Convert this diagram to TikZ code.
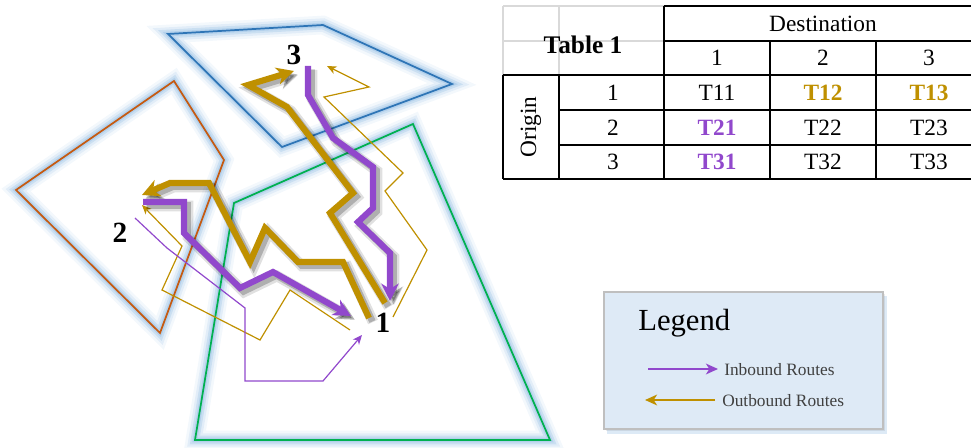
\documentclass[tikz,border=0pt]{standalone}
\usepackage{fontspec}
\setmainfont{Liberation Serif}
\usetikzlibrary{arrows.meta}
\definecolor{gold}{HTML}{BF9000}
\definecolor{purp}{HTML}{9148CC}
\definecolor{zoneblue}{HTML}{2E75B6}
\definecolor{zoneorange}{HTML}{C55A11}
\definecolor{zonegreen}{HTML}{00B050}
\definecolor{glowc}{HTML}{9DC3E6}
\definecolor{legfill}{HTML}{DEEAF6}
\definecolor{legedge}{HTML}{BFBFBF}
\definecolor{gridgray}{HTML}{D9D9D9}
\definecolor{legtext}{HTML}{404040}
\tikzset{
  zoneline/.style={line width=1.3pt},
  thickroute/.style={line width=4.6pt, -{Stealth[length=13pt,width=13pt,inset=4pt]}},
  thinroute/.style={line width=0.9pt, -{Stealth[length=7pt,width=6pt,inset=2pt]}},
  shadowroute/.style={draw=black, line width=8pt, opacity=0.12, xshift=3pt, yshift=-3pt, -{Stealth[length=14pt,width=14pt,inset=4pt]}},
  shadowroutec/.style={draw=black, line width=5pt, opacity=0.22, xshift=2.6pt, yshift=-2.6pt, -{Stealth[length=13pt,width=13pt,inset=4pt]}},
  zonelabel/.style={font=\fontsize{22}{24}\selectfont\bfseries, inner sep=0pt},
  cell/.style={font=\fontsize{17.5}{20}\selectfont, inner sep=0pt},
  boldcell/.style={cell, font=\fontsize{17.5}{20}\selectfont\bfseries},
  blackrule/.style={line width=1.2pt, draw=black},
  grayrule/.style={line width=1.2pt, draw=gridgray},
  legendtext/.style={anchor=west, inner sep=0pt, text=legtext, font=\fontsize{13}{15}\selectfont},
  legendarrow/.style={line width=1.8pt, -{Stealth[length=9pt,width=8pt,inset=2.5pt]}},
}
\def\zoneA{(234,203) -- (413,124) -- (550,440) -- (195,440) -- cycle}
\def\zoneB{(174,81) -- (224,160) -- (160,333) -- (16,190) -- cycle}
\def\zoneC{(168,34) -- (323,25) -- (452,84) -- (282,147) -- cycle}
\def\routeA{(385,303) -- (330,213) -- (353,193) -- (287,107) -- (248,85) -- (294,71)}
\def\routeB{(369,318) -- (343,262) -- (298,262) -- (265,228) -- (250,262) -- (209,183) -- (170,183) -- (142,195)}
\def\routeC{(308,66) -- (308,95) -- (333,138) -- (373,167) -- (373,208) -- (358,222) -- (390,253) -- (390,301)}
\def\routeD{(143,202) -- (184,202) -- (184,233) -- (240,288) -- (273,272) -- (351,316)}
\begin{document}
\begin{tikzpicture}[x=0.75pt,y=-0.75pt]
\useasboundingbox (0,0) rectangle (971,448);
% ---- zones with glow
\foreach \z in {\zoneA,\zoneB,\zoneC}{
  \draw[glowc, line width=14pt, opacity=0.12] \z;
  \draw[glowc, line width=10pt, opacity=0.2] \z;
  \draw[glowc, line width=6.5pt, opacity=0.35] \z;
  \draw[glowc, line width=3.5pt, opacity=0.5] \z;
}
\draw[zoneline, zonegreen] \zoneA;
\draw[zoneline, zoneorange] \zoneB;
\draw[zoneline, zoneblue] \zoneC;
% ---- zone labels
\node[zonelabel] (z3) at (294,55) {3};
\node[zonelabel] (z2) at (120,233) {2};
\node[zonelabel] (z1) at (383,323) {1};
% ---- thin routes
\coordinate (e1) at (393,317); \coordinate (e3) at (327,66);
\coordinate (f1) at (350,330); \coordinate (f2) at (142,205);
\coordinate (g2) at (135,218); \coordinate (g1) at (362,335);
\draw[thinroute, gold] (e1) -- (427,250) -- (385,191) -- (403,173) -- (324,97) -- (369,87) -- (e3);
\draw[thinroute, gold] (f1) -- (290,290) -- (260,340) -- (162,290) -- (182,246) -- (f2);
\draw[thinroute, purp] (g2) -- (167,248) -- (245,308) -- (245,381) -- (323,381) -- (g1);
% ---- shadows of thick routes
\foreach \r in {\routeA,\routeB,\routeC,\routeD}{
  \draw[shadowroute] \r;
  \draw[shadowroutec] \r;
}
% ---- thick routes
\draw[thickroute, gold] \routeA;
\draw[thickroute, gold] \routeB;
\draw[thickroute, purp] \routeC;
\draw[thickroute, purp] \routeD;
% ---- table
\draw[grayrule] (503,6) -- (664,6);
\draw[grayrule] (503,41) -- (664,41);
\draw[grayrule] (503,6) -- (503,75);
\draw[grayrule] (559,6) -- (559,75);
\draw[blackrule] (664,6) -- (971,6);
\draw[blackrule] (664,41) -- (971,41);
\draw[blackrule] (503,75) -- (971,75);
\draw[blackrule] (559,110) -- (971,110);
\draw[blackrule] (559,145) -- (971,145);
\draw[blackrule] (503,179) -- (971,179);
\draw[blackrule] (503,75) -- (503,179);
\draw[blackrule] (559,75) -- (559,179);
\draw[blackrule] (664,6) -- (664,179);
\draw[blackrule] (770,41) -- (770,179);
\draw[blackrule] (876,41) -- (876,179);
\node[cell, font=\fontsize{19}{22}\selectfont\bfseries] (ttl) at (583,45) {Table 1};
\node[cell] (dest) at (823,24) {Destination};
\node[cell] (d1) at (717,58) {1};
\node[cell] (d2) at (823,58) {2};
\node[cell] (d3) at (929,58) {3};
\node[cell, rotate=90] (orig) at (531,127) {Origin};
\node[cell] (o1) at (613,93) {1};
\node[cell] (o2) at (613,128) {2};
\node[cell] (o3) at (613,162) {3};
\node[cell] (t11) at (717,93) {T11};
\node[boldcell, text=gold] (t12) at (823,93) {T12};
\node[boldcell, text=gold] (t13) at (929,93) {T13};
\node[boldcell, text=purp] (t21) at (717,128) {T21};
\node[cell] (t22) at (823,128) {T22};
\node[cell] (t23) at (929,128) {T23};
\node[boldcell, text=purp] (t31) at (717,162) {T31};
\node[cell] (t32) at (823,162) {T32};
\node[cell] (t33) at (929,162) {T33};
% ---- legend
\fill[glowc, opacity=0.35] (607,296) rectangle (887,434);
\fill[black, opacity=0.08] (606,294) rectangle (885,431);
\draw[legedge, fill=legfill, line width=0.9pt] (604,292) rectangle (883,429);
\node[anchor=west, inner sep=0pt, font=\fontsize{23}{26}\selectfont] (legt) at (638,323) {Legend};
\coordinate (la1) at (648,369); \coordinate (la2) at (718,369);
\coordinate (lb1) at (715,400); \coordinate (lb2) at (645,400);
\draw[legendarrow, purp] (la1) -- (la2);
\draw[legendarrow, gold] (lb1) -- (lb2);
\node[legendtext] (lin) at (724,370) {Inbound Routes};
\node[legendtext] (lout) at (722,401) {Outbound Routes};
\end{tikzpicture}
\end{document}
